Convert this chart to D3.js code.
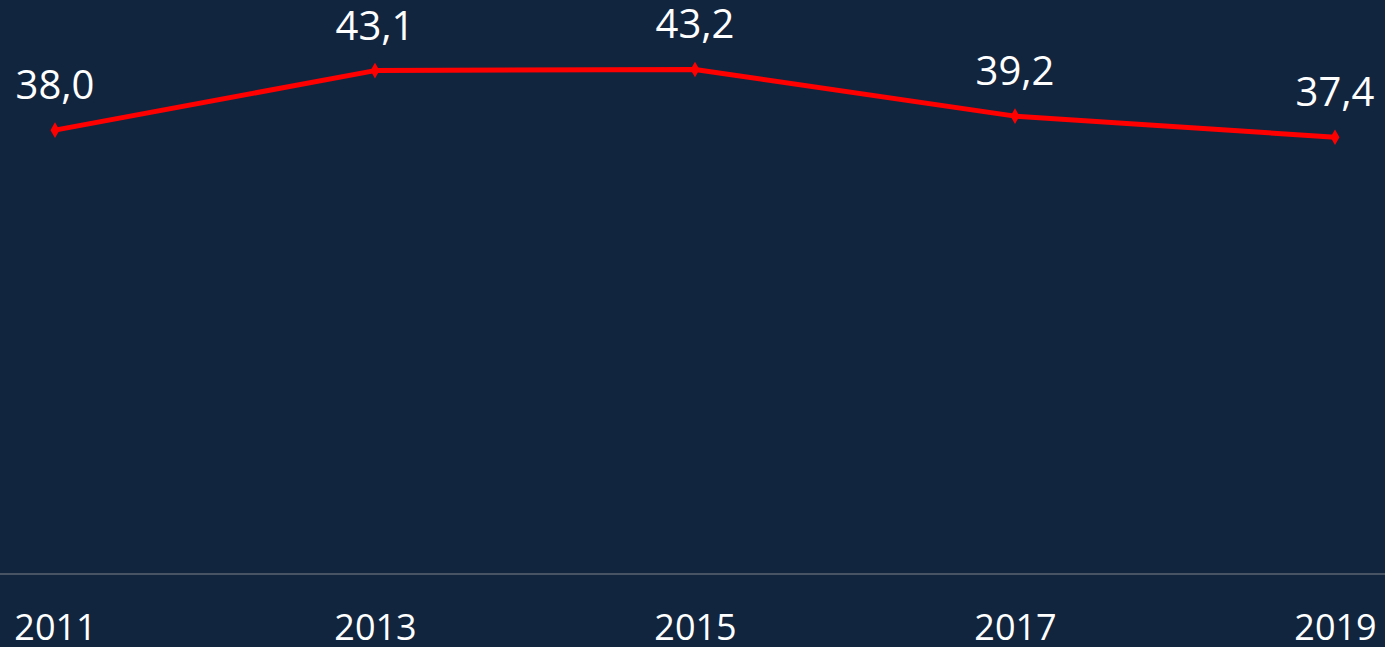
<!DOCTYPE html>
<html><head><meta charset="utf-8">
<script src="https://cdn.jsdelivr.net/npm/d3@7"></script>
<style>
html,body{margin:0;padding:0;background:#12253f;overflow:hidden}
svg{display:block}
</style></head>
<body>
<svg id="c" width="1385" height="647"></svg>
<script>
const years = ["2011","2013","2015","2017","2019"];
const values = [38.0, 43.1, 43.2, 39.2, 37.4];
const valueLabels = ["38,0","43,1","43,2","39,2","37,4"];

const W = 1385, H = 647;
const svg = d3.select("#c");
svg.append("rect").attr("width",W).attr("height",H).attr("fill","#12253f");

const x = d3.scalePoint().domain(years).range([55,1335]);
const y = d3.scaleLinear().domain([0,50]).range([574, 574-50*11.68]);

const font = "'Open Sans', sans-serif";

// baseline axis
svg.append("line").attr("x1",0).attr("x2",W).attr("y1",y(0)).attr("y2",y(0))
  .attr("stroke","#5b6472").attr("stroke-width",1.5);

// x axis labels
const xAxis = d3.axisBottom(x).tickSize(0).tickPadding(0);
const gx = svg.append("g").attr("transform",`translate(0,${y(0)})`).call(xAxis);
gx.select(".domain").remove();
gx.selectAll("text").attr("fill","#ffffff").attr("font-size",36).attr("font-family",font)
  .attr("dy",null).attr("y",66);

const data = years.map((d,i)=>({year:d,v:values[i],lab:valueLabels[i]}));

svg.append("path").datum(data)
  .attr("fill","none").attr("stroke","#ff0000").attr("stroke-width",5).attr("stroke-linejoin","round")
  .attr("d", d3.line().x(d=>x(d.year)).y(d=>y(d.v)));

svg.selectAll(".m").data(data).join("path")
  .attr("transform",d=>`translate(${x(d.year)},${y(d.v)})`)
  .attr("d", d3.symbol(d3.symbolDiamond,70))
  .attr("fill","#ff0000");

svg.selectAll(".lab").data(data).join("text")
  .attr("x",d=>x(d.year)).attr("y",d=>y(d.v)-31)
  .attr("text-anchor","middle").attr("fill","#ffffff")
  .attr("font-size",40).attr("font-family",font)
  .text(d=>d.lab);
</script>
</body></html>
